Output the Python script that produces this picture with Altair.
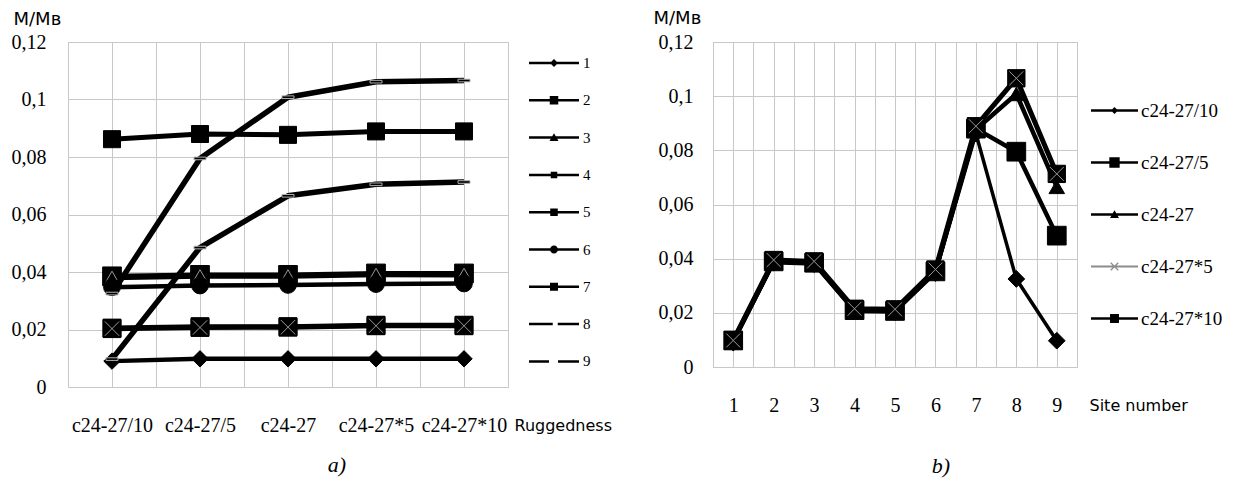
import json
import altair as alt
import pandas as pd

# ---------------- data ----------------
ruggedness = ["c24-27/10", "c24-27/5", "c24-27", "c24-27*5", "c24-27*10"]
site_numbers = [1, 2, 3, 4, 5, 6, 7, 8, 9]

# M/Mв for each site, one value per ruggedness level (same order as `ruggedness`)
site_1 = [0.0090, 0.0098, 0.0098, 0.0098, 0.0098]
site_2 = [0.0385, 0.0390, 0.0390, 0.0395, 0.0395]
site_3 = [0.0380, 0.0385, 0.0385, 0.0390, 0.0390]
site_4 = [0.0205, 0.0210, 0.0210, 0.0215, 0.0215]
site_5 = [0.0203, 0.0207, 0.0208, 0.0213, 0.0213]
site_6 = [0.0347, 0.0353, 0.0355, 0.0358, 0.0360]
site_7 = [0.0862, 0.0880, 0.0877, 0.0889, 0.0889]
site_8 = [0.0325, 0.0795, 0.1008, 0.1062, 0.1066]
site_9 = [0.0097, 0.0485, 0.0665, 0.0705, 0.0713]
site_values = [site_1, site_2, site_3, site_4, site_5, site_6, site_7, site_8, site_9]

y_ticks = [0, 0.02, 0.04, 0.06, 0.08, 0.1, 0.12]

rows = []
for s, vals in zip(site_numbers, site_values):
    for i, (r, v) in enumerate(zip(ruggedness, vals)):
        rows.append({"site": s, "site_label": str(s), "ri": i, "rug": r, "value": v})
df = pd.DataFrame(rows)

# ---------------- styles ----------------
SERIF = "Liberation Serif"
SANS = "DejaVu Sans"
GRID = "#c8c8c8"

DASH = "M-1,-0.22H1V0.22H-1Z"
XPATH = "M-0.8,-0.8L0.8,0.8M-0.8,0.8L0.8,-0.8"

left_shapes = ["diamond", "square", "triangle-up", "square", "square", "circle", "square", DASH, DASH]
left_sizes = [270, 350, 230, 320, 320, 280, 290, 144, 144]
left_pt_stroke = ["black", "black", "#9a9a9a", "black", "black", "black", "black", "#b0b0b0", "#b0b0b0"]
left_line_w = [4.5, 5, 5, 5, 5, 4.5, 5, 5.5, 5.5]

LN = "M-1,-0.05H1V0.05H-1Z "
left_legend_paths = [
    LN + "M0,-0.16L0.16,0L0,0.16L-0.16,0Z",
    LN + "M-0.17,-0.17H0.17V0.17H-0.17Z",
    LN + "M0,-0.17L0.18,0.14H-0.18Z",
    LN + "M-0.13,-0.13H0.13V0.13H-0.13Z",
    LN + "M-0.15,-0.15H0.15V0.15H-0.15Z",
    LN + "M0.16,0A0.16,0.16 0 1,1 -0.16,0A0.16,0.16 0 1,1 0.16,0Z",
    LN + "M-0.16,-0.16H0.16V0.16H-0.16Z",
    "M-1,-0.05H-0.05V0.05H-1Z M0.15,-0.05H1V0.05H0.15Z",
    "M-1,-0.05H-0.2V0.05H-1Z M0.16,-0.05H1V0.05H0.16Z",
]

right_shapes = ["diamond", "square", "triangle-up", XPATH, "square"]
right_sizes = [280, 350, 240, 280, 300]
right_line_color = ["black", "black", "black", "#8c8c8c", "black"]
right_line_w = [3.5, 4.5, 4.5, 2, 5]

LN2 = "M-1,-0.05H1V0.05H-1Z "
right_legend_paths = [
    LN2 + "M0,-0.15L0.15,0L0,0.15L-0.15,0Z",
    LN2 + "M-0.22,-0.22H0.22V0.22H-0.22Z",
    LN2 + "M0,-0.18L0.19,0.15H-0.19Z",
    "M-1,-0.04H1V0.04H-1Z M-0.18,-0.14L-0.14,-0.18L0.18,0.14L0.14,0.18Z M-0.18,0.14L0.14,-0.18L0.18,-0.14L-0.14,0.18Z",
    LN2 + "M-0.19,-0.19H0.19V0.19H-0.19Z",
]
right_legend_fill = ["black", "black", "black", "#8c8c8c", "black"]

YLAB = "replace(format(datum.value, '~g'), '.', ',')"

# ---------------- left chart ----------------
xl_vals = [i * 0.5 - 0.5 for i in range(2 * len(ruggedness) + 1)]
x_left = alt.X(
    "ri:Q",
    scale=alt.Scale(domain=[-0.5, len(ruggedness) - 0.5], nice=False, zero=False),
    axis=alt.Axis(
        values=xl_vals,
        labelExpr=f"datum.value % 1 === 0 ? {json.dumps(ruggedness)}[datum.value] : ''",
        labelPadding=38, labelBaseline="middle", labelAlign="center",
        labelOverlap=False, labelFlush=False,
        title="Ruggedness", titleX=446, titleY=38, titleAlign="left",
        titleBaseline="middle", titleFontSize=16,
    ),
)
y_left = alt.Y(
    "value:Q",
    scale=alt.Scale(domain=[0, 0.12], nice=False),
    axis=alt.Axis(
        values=y_ticks, labelExpr=YLAB, labelPadding=22,
        title="M/Mв", titleAngle=0, titleAlign="left", titleBaseline="middle",
        titleX=-55, titleY=-23, titleFontSize=18,
    ),
)

left_layers = []
for k, s in enumerate(site_numbers):
    base = alt.Chart(df).transform_filter(alt.datum.site == s).encode(x=x_left, y=y_left)
    left_layers.append(base.mark_line(color="black", strokeWidth=left_line_w[k], strokeJoin="round"))
    left_layers.append(
        base.mark_point(
            shape=left_shapes[k], filled=True, color="black", stroke=left_pt_stroke[k],
            strokeWidth=1, size=left_sizes[k], opacity=1,
        )
    )
    if s == 5:
        left_layers.append(
            base.mark_point(shape=XPATH, filled=False, stroke="#9a9a9a", strokeWidth=1,
                            size=left_sizes[k], opacity=1)
        )

left_legend = (
    alt.Chart(df)
    .transform_filter("false")
    .mark_point(filled=True, color="black", size=2500, opacity=1)
    .encode(
        x=x_left, y=y_left,
        shape=alt.Shape(
            "site_label:N",
            scale=alt.Scale(domain=[str(s) for s in site_numbers], range=left_legend_paths),
            legend=alt.Legend(
                orient="none", legendX=461, legendY=-4, direction="vertical", title=None,
                symbolSize=2500, symbolStrokeWidth=0, symbolFillColor="black", symbolOpacity=1,
                labelFont=SERIF, labelFontSize=15, labelColor="black", labelOffset=4,
                rowPadding=4.3, symbolLimit=0,
            ),
        ),
    )
)

left = alt.layer(*left_layers, left_legend).properties(
    width=440, height=345,
    title=alt.TitleParams("a)", orient="bottom", anchor="middle", frame="group",
                          font=SERIF, fontSize=22, fontStyle="italic", fontWeight="normal",
                          color="black", offset=2, dx=49, dy=18),
)

# ---------------- right chart ----------------
xr_vals = [i * 0.5 + 0.5 for i in range(2 * len(site_numbers) + 1)]
x_right = alt.X(
    "site:Q",
    scale=alt.Scale(domain=[0.5, len(site_numbers) + 0.5], nice=False, zero=False),
    axis=alt.Axis(
        values=xr_vals,
        labelExpr="datum.value % 1 === 0 ? format(datum.value, 'd') : ''",
        labelPadding=38, labelBaseline="middle", labelAlign="center",
        labelOverlap=False, labelFlush=False,
        title="Site number", titleX=376, titleY=38, titleAlign="left",
        titleBaseline="middle", titleFontSize=16,
    ),
)
y_right = alt.Y(
    "value:Q",
    scale=alt.Scale(domain=[0, 0.12], nice=False),
    axis=alt.Axis(
        values=y_ticks, labelExpr=YLAB, labelPadding=20,
        title="M/Mв", titleAngle=0, titleAlign="left", titleBaseline="middle",
        titleX=-60, titleY=-24, titleFontSize=18,
    ),
)

right_layers = []
for k, r in enumerate(ruggedness):
    base = alt.Chart(df).transform_filter(alt.datum.rug == r).encode(x=x_right, y=y_right)
    right_layers.append(
        base.mark_line(color=right_line_color[k], strokeWidth=right_line_w[k], strokeJoin="round")
    )
    if right_shapes[k] == XPATH:
        right_layers.append(
            base.mark_point(shape=XPATH, filled=False, stroke="#8c8c8c", strokeWidth=1.5,
                            size=right_sizes[k], opacity=1)
        )
    else:
        right_layers.append(
            base.mark_point(shape=right_shapes[k], filled=True, color="black", stroke="black",
                            strokeWidth=1, size=right_sizes[k], opacity=1)
        )
    if k == len(ruggedness) - 1:
        right_layers.append(
            base.mark_point(shape=XPATH, filled=False, stroke="#9a9a9a", strokeWidth=1,
                            size=right_sizes[k], opacity=1)
        )

r_leg = alt.Legend(
    orient="none", legendX=378, legendY=45, direction="vertical", title=None,
    symbolSize=2209, symbolStrokeWidth=0, symbolOpacity=1,
    labelFont=SERIF, labelFontSize=19, labelColor="black", labelOffset=3,
    rowPadding=18, symbolLimit=0,
)
right_legend = (
    alt.Chart(df)
    .transform_filter("false")
    .mark_point(filled=True, size=2209, opacity=1)
    .encode(
        x=x_right, y=y_right,
        shape=alt.Shape("rug:N", scale=alt.Scale(domain=ruggedness, range=right_legend_paths), legend=r_leg),
        fill=alt.Fill("rug:N", scale=alt.Scale(domain=ruggedness, range=right_legend_fill), legend=r_leg),
    )
)

right = alt.layer(*right_layers, right_legend).properties(
    width=364, height=325,
    title=alt.TitleParams("b)", orient="bottom", anchor="middle", frame="group",
                          font=SERIF, fontSize=22, fontStyle="italic", fontWeight="normal",
                          color="black", offset=2, dx=46, dy=39),
)

chart = (
    alt.hconcat(left, right, spacing=39)
    .resolve_scale(shape="independent", fill="independent")
    .resolve_legend(shape="independent", fill="independent")
    .properties(padding={"left": 2, "top": 0, "right": 0, "bottom": 0})
    .configure_view(stroke=GRID, strokeWidth=1)
    .configure_axis(
        labelFont=SERIF, labelFontSize=20, labelColor="black",
        titleFont=SANS, titleFontWeight="normal", titleColor="black",
        grid=True, gridColor=GRID, gridWidth=1,
        domain=False, ticks=False, tickSize=0,
    )
)

chart.save("out.html", embed_options={"renderer": "svg", "actions": False})
